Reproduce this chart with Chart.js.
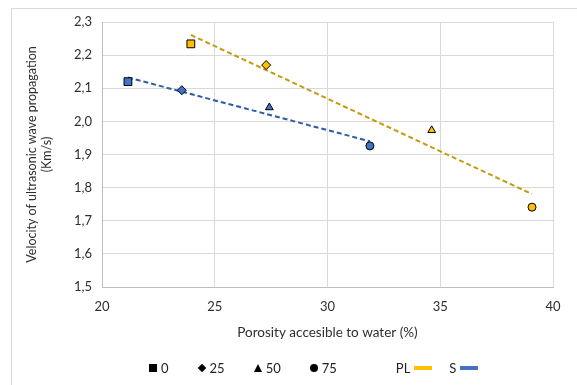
<!DOCTYPE html>
<html>
<head>
<meta charset="utf-8">
<script src="https://cdn.jsdelivr.net/npm/chart.js@4.4.1/dist/chart.umd.min.js"></script>
<style>
  html, body { margin: 0; padding: 0; background: #fff; }
  #wrap { position: relative; width: 577px; height: 385px; overflow: hidden; font-family: Lato, "Open Sans", sans-serif; }
  #frame { position: absolute; left: 11px; top: 8px; width: 620px; height: 420px; border: 1px solid #d9d9d9; }
  #chart { position: absolute; left: 0; top: 0; }
  #legend { position: absolute; left: 149px; top: 360px; display: flex; align-items: center; font-size: 13px; color: #222; }
  .item { display: flex; align-items: center; margin-right: 29px; }
  .item span { margin-left: 4px; }
  .mk { display: inline-block; background: #000; }
  .rect { width: 8px; height: 8px; }
  .rectRot { width: 6px; height: 6px; transform: rotate(45deg); margin: 0 1px; }
  .triangle { width: 0; height: 0; background: none; border-left: 4px solid transparent; border-right: 4px solid transparent; border-bottom: 8px solid #000; }
  .circle { width: 8px; height: 8px; border-radius: 50%; }
  .ser { display: flex; align-items: center; margin-left: 30px; }
  .ser + .ser { margin-left: 17px; }
  .ser .sw { width: 18px; height: 4px; margin-left: 4px; }
</style>
</head>
<body>
<div id="wrap">
  <div id="frame"></div>
  <canvas id="chart" width="577" height="385"></canvas>
  <div id="legend"></div>
</div>
<script>
// cement replacement levels (%), one marker shape each
var replacement = ['0', '25', '50', '75']
var markers = ['rect', 'rectRot', 'triangle', 'circle']
var markerRadius = [5.5, 4.5, 4.5, 4]

// PL series
var plPorosity = [23.94, 27.28, 34.62, 39.07]
var plVelocity = [2.234, 2.170, 1.973, 1.741]

// S series
var sPorosity = [21.15, 23.54, 27.42, 31.88]
var sVelocity = [2.120, 2.094, 2.042, 1.926]

var xTicks = [20, 25, 30, 35, 40]
var yTicks = [1.5, 1.6, 1.7, 1.8, 1.9, 2.0, 2.1, 2.2, 2.3]

var plColor = '#FFC000', plTrend = '#C59A0E'
var sColor = '#4472C4', sTrend = '#2F5AA6'

function points(xs, ys) {
	var out = []
	for (var i = 0; i < xs.length; i++) out.push({x: xs[i], y: ys[i]})
	return out
}

// least squares trendline over the range of the data
function trend(xs, ys) {
	var n = xs.length, mx = 0, my = 0
	for (var i = 0; i < n; i++) { mx += xs[i]; my += ys[i] }
	mx /= n; my /= n
	var sxy = 0, sxx = 0
	for (var i = 0; i < n; i++) {
		sxy += (xs[i] - mx) * (ys[i] - my)
		sxx += (xs[i] - mx) * (xs[i] - mx)
	}
	var b = sxy / sxx, a = my - b * mx
	var x0 = Math.min.apply(null, xs), x1 = Math.max.apply(null, xs)
	return [{x: x0, y: a + b * x0}, {x: x1, y: a + b * x1}]
}

function markerSet(label, xs, ys, fill) {
	return {
		type: 'scatter', label: label, data: points(xs, ys), order: 1,
		pointStyle: markers, pointRadius: markerRadius, pointHoverRadius: markerRadius,
		backgroundColor: fill, borderColor: '#000', borderWidth: 1
	}
}

function trendSet(label, xs, ys, color) {
	return {
		type: 'line', label: label, data: trend(xs, ys), order: 2,
		borderColor: color, borderWidth: 2, borderDash: [5, 3],
		pointRadius: 0, fill: false
	}
}

var family = 'Lato, "Open Sans", sans-serif'
var font = {family: family, size: 13}
var textColor = '#2e2e2e'

new Chart(document.getElementById('chart').getContext('2d'), {
	data: {
		datasets: [
			markerSet('PL', plPorosity, plVelocity, plColor),
			markerSet('S', sPorosity, sVelocity, sColor),
			trendSet('PL trend', plPorosity, plVelocity, plTrend),
			trendSet('S trend', sPorosity, sVelocity, sTrend)
		]
	},
	options: {
		responsive: false,
		animation: false,
		layout: {padding: {left: 0, right: 24, top: 22, bottom: 40}},
		plugins: {legend: {display: false}, tooltip: {enabled: false}},
		scales: {
			x: {
				type: 'linear', min: 20, max: 40,
				afterBuildTicks: function(s) { s.ticks = xTicks.map(function(v) { return {value: v} }) },
				afterFit: function(s) { s.height = 58 },
				ticks: {font: font, color: textColor, padding: 12},
				grid: {color: '#d9d9d9', drawTicks: false},
				border: {color: '#bfbfbf'},
				title: {display: true, text: 'Porosity accesible to water (%)', font: {family: family, size: 13.5}, color: textColor, padding: {top: 0, bottom: 4}}
			},
			y: {
				type: 'linear', min: 1.5, max: 2.3,
				afterBuildTicks: function(s) { s.ticks = yTicks.map(function(v) { return {value: v} }) },
				afterFit: function(s) { s.width = 102 },
				ticks: {font: font, color: textColor, padding: 10,
					callback: function(v) { return v.toFixed(1).replace('.', ',') }},
				grid: {color: '#d9d9d9', drawTicks: false},
				border: {color: '#bfbfbf'},
				title: {display: true, text: ['Velocity of ultrasonic wave propagation', '(Km/s)'],
					font: {family: family, size: 12.5, lineHeight: 1.2}, color: textColor, padding: {top: 24, bottom: 0}}
			}
		}
	}
})

// legend: marker shapes for replacement level, line swatches for the series
var legend = document.getElementById('legend')
for (var i = 0; i < replacement.length; i++) {
	legend.innerHTML += '<div class="item"><i class="mk ' + markers[i] + '"></i><span>' + replacement[i] + '</span></div>'
}
legend.innerHTML += '<div class="ser">PL<i class="sw" style="background:' + plColor + '"></i></div>'
legend.innerHTML += '<div class="ser">S<i class="sw" style="background:' + sColor + '"></i></div>'
</script>
</body>
</html>
